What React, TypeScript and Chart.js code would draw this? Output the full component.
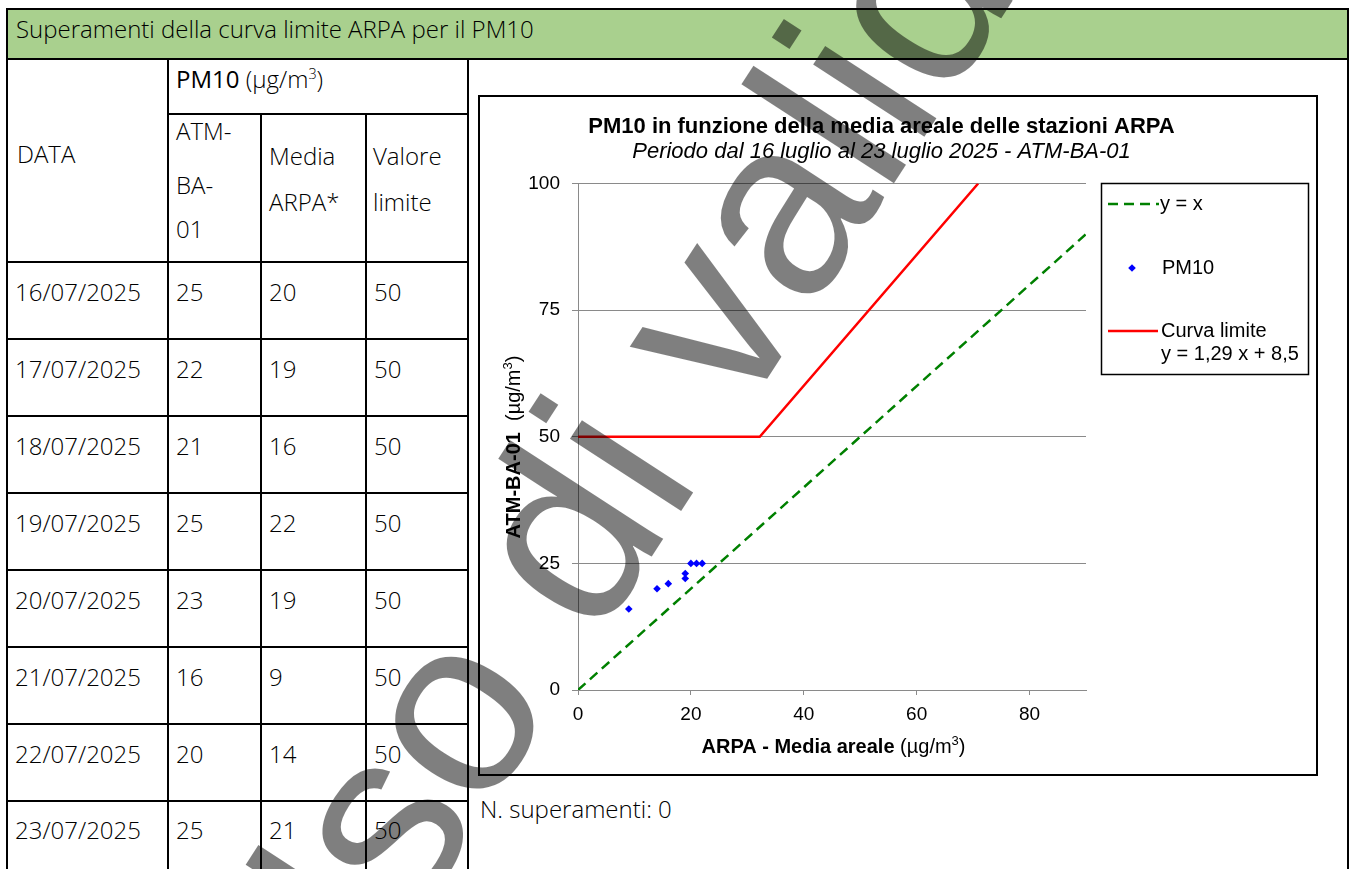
import React, { useEffect, useRef } from "react";
import { Chart, registerables } from "chart.js";

Chart.register(...registerables);

// ---------- data ----------
const tableTitle = "Superamenti della curva limite ARPA per il PM10";
const dates = ["16/07/2025", "17/07/2025", "18/07/2025", "19/07/2025", "20/07/2025", "21/07/2025", "22/07/2025", "23/07/2025"];
const stationValues = [25, 22, 21, 25, 23, 16, 20, 25];
const arpaMeans = [20, 19, 16, 22, 19, 9, 14, 21];
const limitValues = [50, 50, 50, 50, 50, 50, 50, 50];
const xTickValues = [0, 20, 40, 60, 80];
const yTickValues = [0, 25, 50, 75, 100];
const identityX = [0, 90];
const identityY = [0, 90];
const limitCurveX = [0, 32.2, 70.9];
const limitCurveY = [50, 50, 100];
const exceedances = 0;

const chartTitle = "PM10 in funzione della media areale delle stazioni ARPA";
const chartSubtitle = "Periodo dal 16 luglio al 23 luglio 2025 - ATM-BA-01";
const legendLabels = ["y = x", "PM10", "Curva limite", "y = 1,29 x + 8,5"];
const watermarkText = "Uso di validazione";

// ---------- styles ----------
const TF = '"Open Sans", "Lato", sans-serif';
const CF = '"Liberation Sans", Arial, sans-serif';
const GRID = "#8a8a8a";

function Txt(props: { x: number; cy: number; fs?: number; weight?: number; children: React.ReactNode }) {
  const fs = props.fs ?? 24;
  return (
    <div
      style={{
        position: "absolute",
        left: props.x,
        top: props.cy - fs * 0.62,
        fontSize: fs,
        lineHeight: `${fs * 1.2}px`,
        fontFamily: TF,
        fontWeight: props.weight ?? 300,
        whiteSpace: "nowrap",
        color: "#000",
      }}
    >
      {props.children}
    </div>
  );
}

function Rule(props: { x: number; y: number; w: number; h: number }) {
  return <div style={{ position: "absolute", left: props.x, top: props.y, width: props.w, height: props.h, background: "#000" }} />;
}

type Part = { text: string; font: string; dy?: number };
function drawRich(ctx: CanvasRenderingContext2D, parts: Part[], cx: number, cy: number) {
  let total = 0;
  parts.forEach((p) => {
    ctx.font = p.font;
    total += ctx.measureText(p.text).width;
  });
  let x = cx - total / 2;
  ctx.textAlign = "left";
  ctx.textBaseline = "middle";
  parts.forEach((p) => {
    ctx.font = p.font;
    ctx.fillText(p.text, x, cy + (p.dy || 0));
    x += ctx.measureText(p.text).width;
  });
}

const decorPlugin = {
  id: "decor",
  afterDraw(chart: any) {
    const ctx: CanvasRenderingContext2D = chart.ctx;
    const ds = chart.data.datasets;
    ctx.save();
    ctx.fillStyle = "#000";
    // titles
    ctx.textAlign = "center";
    ctx.textBaseline = "middle";
    ctx.font = `bold 22px ${CF}`;
    ctx.fillText(chartTitle, 401.5, 30);
    ctx.font = `italic 22px ${CF}`;
    ctx.fillText(chartSubtitle, 401.5, 55);

    // x axis title
    drawRich(
      ctx,
      [
        { text: "ARPA - Media areale ", font: `bold 20px ${CF}` },
        { text: "(µg/m", font: `20px ${CF}` },
        { text: "3", font: `13px ${CF}`, dy: -6 },
        { text: ")", font: `20px ${CF}` },
      ],
      353.5,
      650
    );
    // y axis title
    ctx.save();
    ctx.translate(34, 350);
    ctx.rotate(-Math.PI / 2);
    drawRich(
      ctx,
      [
        { text: "ATM-BA-01", font: `bold 20px ${CF}` },
        { text: "  (µg/m", font: `20px ${CF}` },
        { text: "3", font: `13px ${CF}`, dy: -6 },
        { text: ")", font: `20px ${CF}` },
      ],
      0,
      0
    );
    ctx.restore();

    // legend
    ctx.lineWidth = 1.5;
    ctx.strokeStyle = "#000";
    ctx.setLineDash([]);
    ctx.strokeRect(621.5, 86.5, 207, 191);

    ctx.lineWidth = ds[0].borderWidth;
    ctx.strokeStyle = ds[0].borderColor;
    ctx.setLineDash(ds[0].borderDash);
    ctx.beginPath();
    ctx.moveTo(628, 107);
    ctx.lineTo(679, 107);
    ctx.stroke();

    ctx.setLineDash([]);
    ctx.fillStyle = ds[2].backgroundColor;
    ctx.beginPath();
    const r = ds[2].pointRadius;
    ctx.moveTo(652, 171 - r);
    ctx.lineTo(652 + r, 171);
    ctx.lineTo(652, 171 + r);
    ctx.lineTo(652 - r, 171);
    ctx.closePath();
    ctx.fill();

    ctx.lineWidth = ds[1].borderWidth;
    ctx.strokeStyle = ds[1].borderColor;
    ctx.beginPath();
    ctx.moveTo(628, 234);
    ctx.lineTo(678, 234);
    ctx.stroke();

    ctx.fillStyle = "#000";
    ctx.font = `20px ${CF}`;
    ctx.textAlign = "left";
    ctx.textBaseline = "middle";
    ctx.fillText(legendLabels[0], 680, 107);
    ctx.fillText(legendLabels[1], 682, 171);
    ctx.fillText(legendLabels[2], 681, 234);
    ctx.fillText(legendLabels[3], 681, 257);
    ctx.restore();
  },
};

function ScatterChart() {
  const ref = useRef<HTMLCanvasElement | null>(null);
  useEffect(() => {
    if (!ref.current) return;
    const chart = new Chart(ref.current, {
      type: "scatter",
      data: {
        datasets: [
          {
            label: "y = x",
            data: identityX.map((x, i) => ({ x, y: identityY[i] })),
            showLine: true,
            borderColor: "#008000",
            borderWidth: 2.5,
            borderDash: [10, 6],
            pointRadius: 0,
            order: 3,
          },
          {
            label: "Curva limite",
            data: limitCurveX.map((x, i) => ({ x, y: limitCurveY[i] })),
            showLine: true,
            borderColor: "#ff0000",
            borderWidth: 2.5,
            pointRadius: 0,
            order: 2,
          },
          {
            label: "PM10",
            data: arpaMeans.map((x, i) => ({ x, y: stationValues[i] })),
            pointStyle: "rectRot",
            pointRadius: 3.8,
            backgroundColor: "#0000ff",
            borderColor: "#0000ff",
            borderWidth: 0,
            order: 1,
          },
        ],
      } as any,
      options: {
        responsive: false,
        animation: false,
        layout: { padding: { left: 0, top: 86.5, right: 230, bottom: 0 } },
        plugins: { legend: { display: false }, title: { display: false }, tooltip: { enabled: false } },
        scales: {
          x: {
            type: "linear",
            min: 0,
            max: 90,
            afterFit: (s: any) => {
              s.height = 84;
            },
            afterBuildTicks: (s: any) => {
              s.ticks = xTickValues.map((v) => ({ value: v }));
            },
            grid: { drawOnChartArea: false, drawTicks: true, tickLength: 5, color: GRID, lineWidth: 1 },
            border: { display: true, color: GRID, width: 1 },
            ticks: { font: { family: CF, size: 19 }, color: "#000", padding: 8, maxRotation: 0, autoSkip: false },
          },
          y: {
            type: "linear",
            min: 0,
            max: 100,
            afterFit: (s: any) => {
              s.width = 98;
            },
            afterBuildTicks: (s: any) => {
              s.ticks = yTickValues.map((v) => ({ value: v }));
            },
            grid: { drawTicks: true, tickLength: 6, color: GRID, lineWidth: 1 },
            border: { display: true, color: GRID, width: 1 },
            ticks: { font: { family: CF, size: 19 }, color: "#000", padding: 12, autoSkip: false },
          },
        },
      } as any,
      plugins: [decorPlugin],
    });
    return () => chart.destroy();
  }, []);
  return <canvas ref={ref} width={836} height={677} style={{ position: "absolute", left: 480, top: 97, width: 836, height: 677 }} />;
}

export default function App() {
  const rowTop0 = 261.3;
  const rowStep = 76.9;
  const rowLines = dates.map((_, i) => rowTop0 + i * rowStep);
  return (
    <div style={{ position: "absolute", left: 0, top: 0, width: 1350, height: 869, overflow: "hidden", background: "#fff" }}>
      {/* header band */}
      <div style={{ position: "absolute", left: 8, top: 10, width: 1339, height: 48, background: "#a9d08e" }} />
      <Txt x={16} cy={29.5}>{tableTitle}</Txt>

      {/* table rules */}
      <Rule x={6} y={8} w={1343} h={2} />
      <Rule x={6} y={8} w={2} h={861} />
      <Rule x={1347} y={8} w={2} h={861} />
      <Rule x={6} y={58} w={1343} h={2} />
      <Rule x={167} y={60} w={2} h={809} />
      <Rule x={167} y={113} w={302} h={2} />
      <Rule x={260} y={114} w={2} h={755} />
      <Rule x={365} y={114} w={2} h={755} />
      <Rule x={467} y={60} w={2} h={809} />
      {rowLines.map((y, i) => (
        <Rule key={i} x={6} y={y} w={463} h={2} />
      ))}

      {/* header cells */}
      <Txt x={17} cy={155}>DATA</Txt>
      <Txt x={176} cy={80} weight={400}>
        PM10 <span style={{ fontWeight: 300 }}>(µg/m<sup style={{ fontSize: "0.6em", lineHeight: 0 }}>3</sup>)</span>
      </Txt>
      <Txt x={176} cy={132}>ATM-</Txt>
      <Txt x={176} cy={186}>BA-</Txt>
      <Txt x={176} cy={230}>01</Txt>
      <Txt x={269} cy={157}>Media</Txt>
      <Txt x={269} cy={202.5}>ARPA*</Txt>
      <Txt x={373} cy={157}>Valore</Txt>
      <Txt x={373} cy={202.5}>limite</Txt>

      {/* data rows */}
      {dates.map((d, i) => {
        const cy = rowTop0 + 31.7 + i * rowStep;
        return (
          <React.Fragment key={d}>
            <Txt x={15} cy={cy}>{d}</Txt>
            <Txt x={176} cy={cy}>{stationValues[i]}</Txt>
            <Txt x={269} cy={cy}>{arpaMeans[i]}</Txt>
            <Txt x={374} cy={cy}>{limitValues[i]}</Txt>
          </React.Fragment>
        );
      })}

      {/* chart frame */}
      <div style={{ position: "absolute", left: 478, top: 95, width: 840, height: 681, border: "2px solid #000", boxSizing: "border-box" }} />
      <ScatterChart />

      <Txt x={480} cy={810}>N. superamenti: {exceedances}</Txt>

      {/* watermark */}
      <svg width={1350} height={869} style={{ position: "absolute", left: 0, top: 0, pointerEvents: "none" }}>
        <text
          transform="translate(315 1075) rotate(-57)"
          fontFamily={CF}
          fontSize={251}
          fill="#000"
          fillOpacity={0.5}
        >
          {watermarkText}
        </text>
      </svg>
    </div>
  );
}
